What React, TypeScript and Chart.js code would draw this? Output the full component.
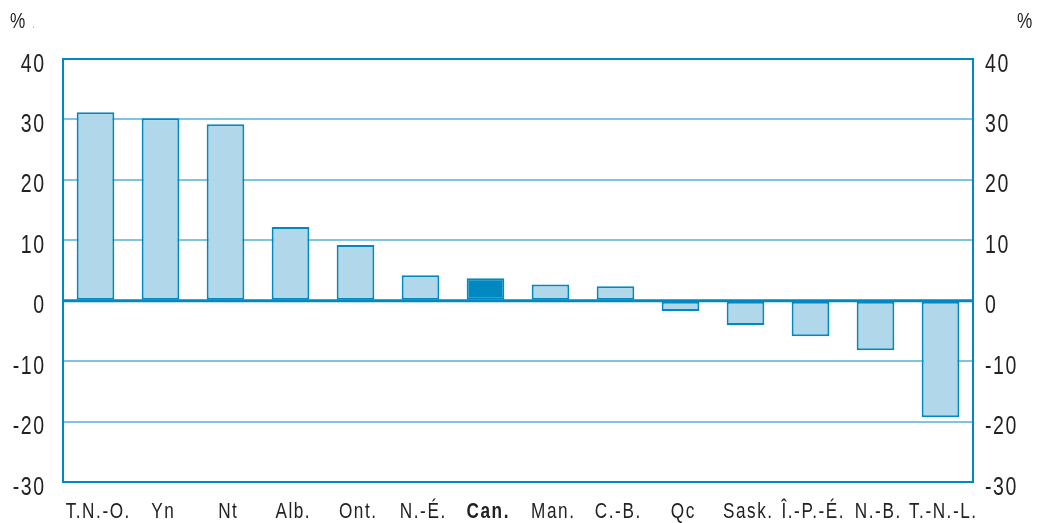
import React, { useEffect, useRef } from "react";
import { Chart, registerables } from "chart.js";

Chart.register(...registerables);

const categories = ["T.N.-O.", "Yn", "Nt", "Alb.", "Ont.", "N.-É.", "Can.", "Man.", "C.-B.", "Qc", "Sask.", "Î.-P.-É.", "N.-B.", "T.-N.-L."];
const values = [31.2, 30.2, 29.2, 12.2, 9.2, 4.2, 3.7, 2.7, 2.4, -1.7, -4.0, -5.9, -8.2, -19.3];
const highlight = "Can.";
const yMin = -30;
const yMax = 40;
const yStep = 10;
const unitLabel = "%";

const DARK = "#0088c0";
const LIGHT = "#b0d8ea";
const GRID = "#80c4e0";
const TEXT = "#222";
const FONT = "'Liberation Sans', Arial, sans-serif";
const SQUEEZE = 0.78;

function drawText(ctx: CanvasRenderingContext2D, text: string, x: number, y: number, align: "left" | "right" | "center", size: number, bold = false, color = TEXT) {
  ctx.save();
  ctx.font = `${bold ? "bold " : ""}${size}px ${FONT}`;
  (ctx as any).letterSpacing = "2px";
  ctx.fillStyle = color;
  ctx.textBaseline = "alphabetic";
  ctx.textAlign = "left";
  const w = ctx.measureText(text).width - 2;
  ctx.translate(x, y);
  ctx.scale(SQUEEZE, 1);
  let sx = 0;
  if (align === "right") sx = -w;
  else if (align === "center") sx = -w / 2;
  ctx.fillText(text, sx, 0);
  ctx.restore();
}

export default function App() {
  const ref = useRef<HTMLCanvasElement>(null);
  useEffect(() => {
    const canvas = ref.current!;
    const framePlugin = {
      id: "frame",
      afterDatasetsDraw(chart: any) {
        const { ctx, chartArea, scales } = chart;
        ctx.save();
        const y0 = scales.y.getPixelForValue(0);
        ctx.strokeStyle = DARK;
        ctx.lineWidth = 3;
        ctx.beginPath();
        ctx.moveTo(chartArea.left, y0);
        ctx.lineTo(chartArea.right, y0);
        ctx.stroke();
        ctx.lineWidth = 2;
        ctx.strokeRect(chartArea.left, chartArea.top, chartArea.right - chartArea.left, chartArea.bottom - chartArea.top);
        ctx.restore();
      },
      afterDraw(chart: any) {
        const { ctx, chartArea, scales } = chart;
        // y tick labels on both sides
        scales.y.ticks.forEach((t: any) => {
          const py = scales.y.getPixelForValue(t.value);
          const label = String(t.value);
          drawText(ctx, label, chartArea.left - 19, py + 12.5, "right", 25);
          drawText(ctx, label, chartArea.right + 12, py + 12.5, "left", 25);
        });
        // x category labels
        categories.forEach((c, i) => {
          const px = scales.x.getPixelForValue(i);
          drawText(ctx, c, px + 2, 518, "center", 22, c === highlight);
        });
        // unit labels
        drawText(ctx, unitLabel, 10, 28, "left", 22);
        drawText(ctx, unitLabel, 1017, 28, "left", 22);
        drawText(ctx, ".", 32, 28, "left", 14, false, GRID);
      },
    };
    const chart = new Chart(canvas, {
      type: "bar",
      data: {
        labels: categories,
        datasets: [
          {
            data: values,
            backgroundColor: categories.map((c) => (c === highlight ? DARK : LIGHT)),
            borderColor: DARK,
            borderWidth: 2,
            borderSkipped: false,
            barPercentage: 0.58,
            categoryPercentage: 1,
            yAxisID: "y",
          },
        ],
      },
      options: {
        animation: false,
        responsive: false,
        layout: { padding: { top: 59, left: 0, right: 0, bottom: 0 } },
        plugins: { legend: { display: false }, tooltip: { enabled: false } },
        scales: {
          x: {
            grid: { display: false, drawTicks: false },
            border: { display: false },
            ticks: { display: false },
            afterFit(scale: any) {
              scale.height = 41;
            },
          },
          y: {
            position: "left",
            min: yMin,
            max: yMax,
            grid: {
              drawTicks: false,
              lineWidth: 2,
              color: (ctx: any) => {
                const v = ctx.tick?.value;
                return v === 0 || v === yMin || v === yMax ? "rgba(0,0,0,0)" : GRID;
              },
            },
            border: { display: false },
            ticks: { stepSize: yStep, display: false },
            afterFit(scale: any) {
              scale.width = 63;
            },
          },
          y2: {
            position: "right",
            min: yMin,
            max: yMax,
            grid: { display: false, drawTicks: false },
            border: { display: false },
            ticks: { stepSize: yStep, display: false },
            afterFit(scale: any) {
              scale.width = 67;
            },
          },
        },
      },
      plugins: [framePlugin],
    });
    return () => chart.destroy();
  }, []);
  return (
    <div style={{ position: "absolute", left: 0, top: 0, width: 1040, height: 523 }}>
      <canvas ref={ref} width={1040} height={523} />
    </div>
  );
}
